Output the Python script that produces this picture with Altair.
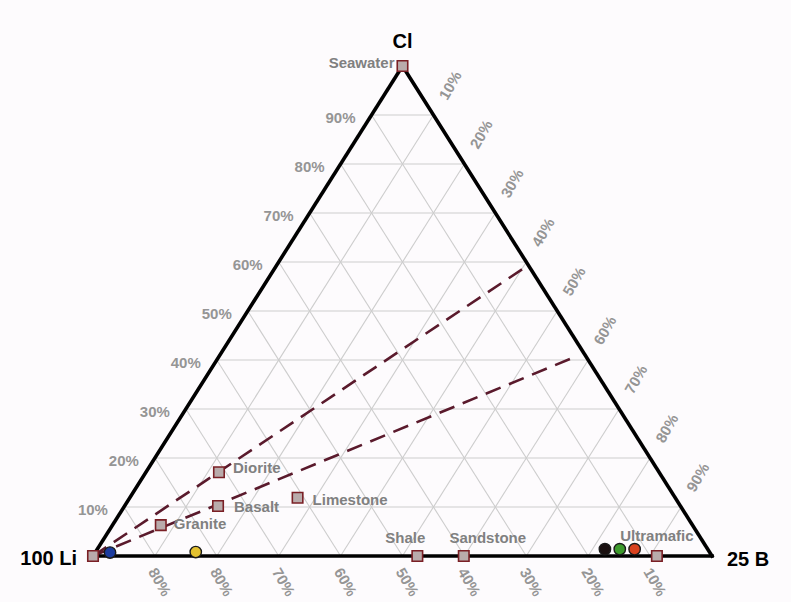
import altair as alt
import pandas as pd

# ---------------- data (ternary percentages: Li / B / Cl) ----------------
tick_vals = [10, 20, 30, 40, 50, 60, 70, 80, 90]
cl_tick_labels = ["10%", "20%", "30%", "40%", "50%", "60%", "70%", "80%", "90%"]
li_tick_labels = ["80%", "80%", "70%", "60%", "50%", "40%", "30%", "20%", "10%"]  # read left->right along bottom
b_tick_labels = ["10%", "20%", "30%", "40%", "50%", "60%", "70%", "80%", "90%"]

sq_names = ["Seawater", "Diorite", "Basalt", "Granite", "Limestone", "Shale", "Sandstone", "Ultramafic", "Li end"]
sq_b = [0.0, 11.8, 15.1, 7.8, 27.1, 52.4, 59.9, 91.1, 0.0]
sq_cl = [100.0, 17.1, 10.2, 6.3, 11.9, 0.0, 0.0, 0.0, 0.0]

circ_names = ["s1", "s2", "s3", "s4", "s5"]
circ_b = [2.4, 16.2, 82.0, 84.4, 86.8]
circ_cl = [0.7, 0.8, 1.4, 1.4, 1.4]
circ_colors = ["#1b3b9e", "#e3c130", "#1a1010", "#3d9a2c", "#d9421f"]

mix_b_end = [40.4, 57.5]
mix_cl_end = [59.0, 40.6]

corner_names = ["100 Li", "25 B", "Cl"]
corner_b = [0.0, 100.0, 0.0]
corner_cl = [0.0, 0.0, 100.0]

# ---------------- tables built from the arrays ----------------
grid_rows = []
for k in tick_vals:
    grid_rows.append({"B1": 0, "Cl1": k, "B2": 100 - k, "Cl2": k})        # constant Cl
    grid_rows.append({"B1": 100 - k, "Cl1": 0, "B2": 0, "Cl2": 100 - k})  # constant Li
    grid_rows.append({"B1": k, "Cl1": 0, "B2": k, "Cl2": 100 - k})        # constant B
grid_df = pd.DataFrame(grid_rows)

border_df = pd.DataFrame({"B1": [0, 100, 0], "Cl1": [0, 0, 100],
                          "B2": [100, 0, 0], "Cl2": [0, 100, 0]})
mix_df = pd.DataFrame({"B1": [0, 0], "Cl1": [0, 0], "B2": mix_b_end, "Cl2": mix_cl_end})

sq_df = pd.DataFrame({"name": sq_names, "B": sq_b, "Cl": sq_cl})
circ_df = pd.DataFrame({"name": circ_names, "B": circ_b, "Cl": circ_cl})
cl_tick_df = pd.DataFrame({"label": cl_tick_labels, "B": [0] * 9, "Cl": tick_vals})
li_tick_df = pd.DataFrame({"label": li_tick_labels, "B": tick_vals, "Cl": [0] * 9})
b_tick_df = pd.DataFrame({"label": b_tick_labels, "B": [100 - v for v in tick_vals], "Cl": tick_vals})
b_tick_df["label"] = b_tick_labels[::-1]
corner_df = pd.DataFrame({"name": corner_names, "B": corner_b, "Cl": corner_cl})

xs = alt.Scale(domain=[0, 1], nice=False, zero=False)
ys = alt.Scale(domain=[0, 1], nice=False, zero=False)
FONT = "Liberation Sans"


def pt(df):
    return alt.Chart(df).transform_calculate(
        px="datum.B/100 + datum.Cl/200", py="datum.Cl/100")


def seg(df):
    return alt.Chart(df).transform_calculate(
        x1="datum.B1/100 + datum.Cl1/200", y1="datum.Cl1/100",
        x2="datum.B2/100 + datum.Cl2/200", y2="datum.Cl2/100")


def seg_enc(ch):
    return ch.encode(x=alt.X("x1:Q", scale=xs, axis=None),
                     y=alt.Y("y1:Q", scale=ys, axis=None),
                     x2="x2:Q", y2="y2:Q")


def pt_enc(ch, **kw):
    return ch.encode(x=alt.X("px:Q", scale=xs, axis=None),
                     y=alt.Y("py:Q", scale=ys, axis=None), **kw)


grid = seg_enc(seg(grid_df).mark_rule(color="#cdcdcd", strokeWidth=1.1))
mix = seg_enc(seg(mix_df).mark_rule(color="#5a1a2c", strokeWidth=2.6, strokeDash=[16, 9]))
border = seg_enc(seg(border_df).mark_rule(color="#000000", strokeWidth=3.6, strokeCap="square"))

squares = pt_enc(pt(sq_df).mark_point(shape="square", filled=True, size=110,
                                       fill="#b9abab", stroke="#7a1f25",
                                       strokeWidth=1.6, opacity=1))
circles = pt_enc(pt(circ_df).mark_point(shape="circle", filled=True, size=130,
                                         stroke="#1a1a1a", strokeWidth=1.4, opacity=1),
                 color=alt.Color("name:N", scale=alt.Scale(domain=circ_names, range=circ_colors),
                                 legend=None))

label_style = dict(font=FONT, fontSize=15, fontWeight="bold", color="#808080")
label_pos = {
    "Seawater": dict(align="right", dx=-8, dy=-3),
    "Diorite": dict(align="left", dx=14, dy=-4),
    "Basalt": dict(align="left", dx=16, dy=1),
    "Granite": dict(align="left", dx=13, dy=-1),
    "Limestone": dict(align="left", dx=15, dy=2),
    "Shale": dict(align="center", dx=-12, dy=-18),
    "Sandstone": dict(align="center", dx=24, dy=-18),
    "Ultramafic": dict(align="center", dx=0, dy=-20),
}
labels = [
    pt_enc(pt(sq_df).transform_filter(alt.datum.name == nm)
           .mark_text(baseline="middle", **label_style, **pos), text="name:N")
    for nm, pos in label_pos.items()
]

tick_style = dict(font=FONT, fontSize=15, fontWeight="bold", color="#959595", baseline="middle")
cl_ticks = pt_enc(pt(cl_tick_df).mark_text(align="right", dx=-16, dy=3, **tick_style), text="label:N")
li_ticks = pt_enc(pt(li_tick_df).mark_text(align="center", angle=60, dx=25, dy=9, **tick_style),
                  text="label:N")
b_ticks = pt_enc(pt(b_tick_df).mark_text(align="center", angle=300, dx=34, dy=0, **tick_style),
                 text="label:N")

corner_style = dict(font=FONT, fontSize=20, fontWeight="bold", color="#000000", baseline="middle")
c_li = pt_enc(pt(corner_df).transform_filter(alt.datum.name == "100 Li")
              .mark_text(align="right", dx=-16, dy=3, **corner_style), text="name:N")
c_b = pt_enc(pt(corner_df).transform_filter(alt.datum.name == "25 B")
             .mark_text(align="left", dx=15, dy=4, **corner_style), text="name:N")
c_cl = pt_enc(pt(corner_df).transform_filter(alt.datum.name == "Cl")
              .mark_text(align="center", dx=0, dy=-24, **corner_style), text="name:N")

chart = alt.layer(
    grid, mix, border, squares, circles, *labels, cl_ticks, li_ticks, b_ticks, c_li, c_b, c_cl
).properties(
    width=619, height=490,
    autosize=alt.AutoSizeParams(type="none"),
    padding={"left": 93, "top": 66, "right": 79, "bottom": 46},
    background="#fdfbfd",
).configure_view(stroke=None, clip=False)

chart.save("out.html", embed_options={"renderer": "svg", "actions": False})
